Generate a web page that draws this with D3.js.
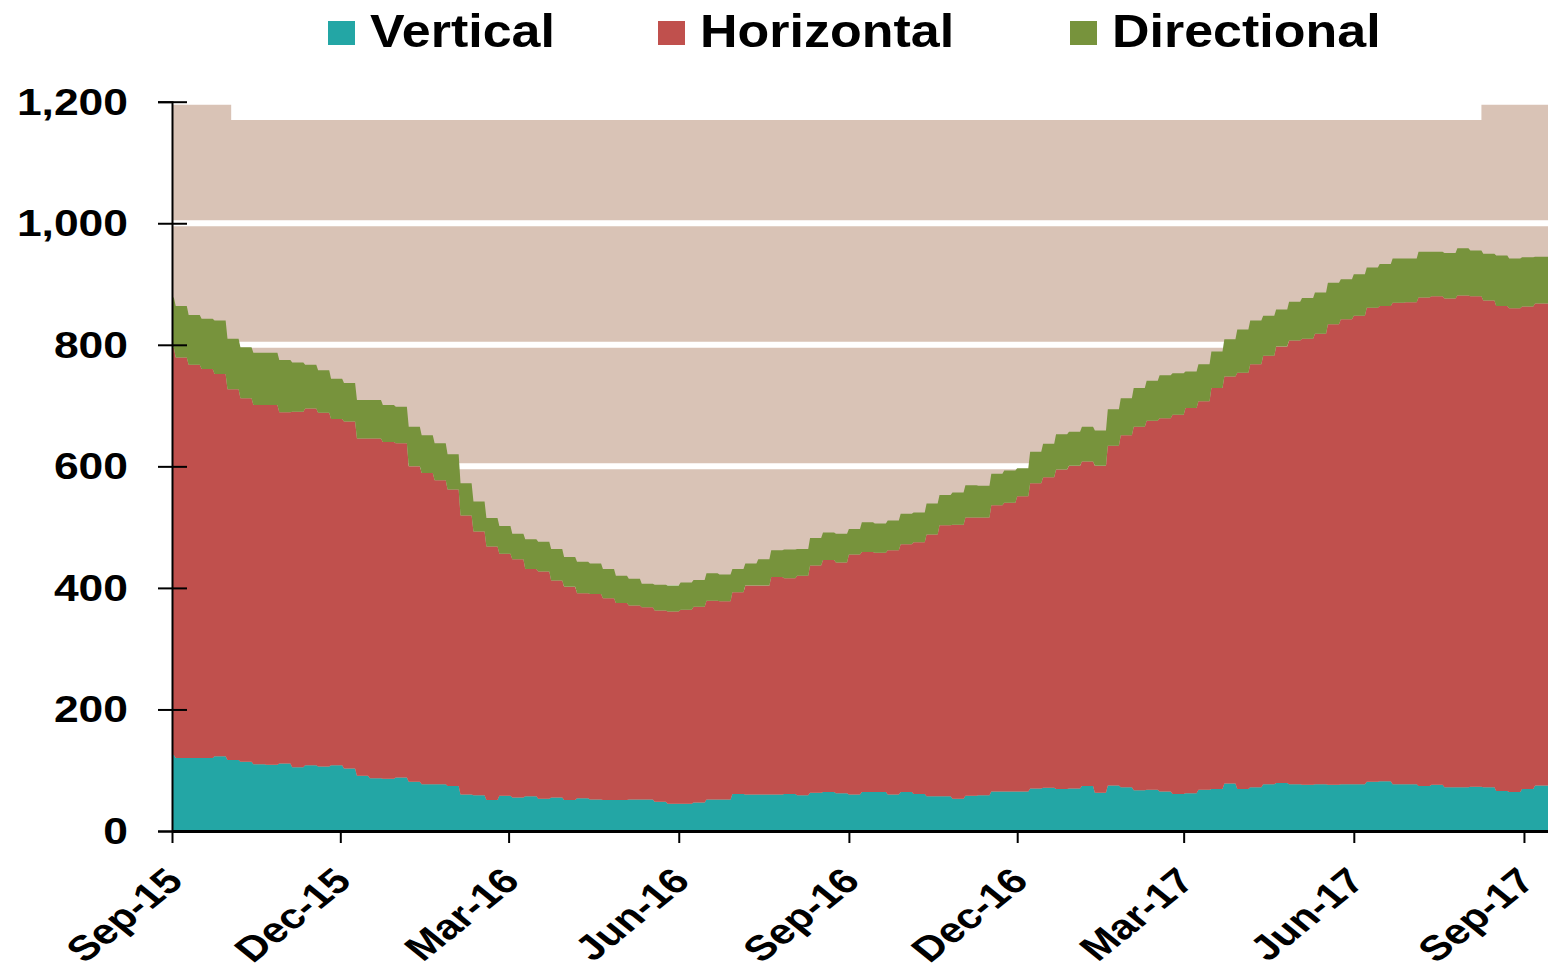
<!DOCTYPE html>
<html>
<head>
<meta charset="utf-8">
<script src="https://cdn.jsdelivr.net/npm/d3@7"></script>
<style>
    body { margin: 0; background: #fff; }
    text { font-family: "Liberation Sans", Arial, sans-serif; font-weight: bold; fill: #000; }
</style>
</head>
<body>
<div id="chart"></div>
<script>
// weekly rig counts, one value per week starting at weekStart
var weekStart = new Date(2015, 7, 27);
var seriesKeys = ['vertical', 'horizontal', 'directional'];
var seriesNames = ['Vertical', 'Horizontal', 'Directional'];

var vertical = [125, 120, 120, 120, 123, 117, 114, 110, 109, 111,
    105, 108, 106, 108, 103, 91, 87, 86, 88, 81,
    77, 77, 74, 60, 59, 51, 58, 55, 57, 53,
    55, 51, 54, 52, 51, 51, 52, 52, 48, 45,
    45, 47, 52, 52, 61, 60, 60, 60, 61, 59,
    63, 64, 62, 60, 64, 64, 60, 64, 61, 57,
    57, 53, 58, 59, 65, 65, 65, 70, 71, 69,
    70, 74, 63, 75, 72, 67, 68, 65, 61, 62,
    68, 69, 78, 69, 72, 77, 79, 77, 76, 77,
    76, 77, 77, 81, 82, 77, 77, 74, 76, 72,
    72, 73, 72, 66, 64, 69, 75];

var horizontal = [670, 659, 647, 640, 629, 610, 598, 591, 592, 578,
    585, 587, 582, 570, 571, 555, 559, 554, 550, 519,
    512, 500, 488, 459, 434, 417, 398, 392, 374, 374,
    357, 351, 337, 338, 332, 324, 319, 316, 315, 316,
    319, 322, 327, 326, 332, 344, 344, 358, 355, 361,
    374, 382, 380, 395, 395, 394, 402, 408, 414, 431,
    446, 451, 458, 457, 471, 475, 486, 502, 511, 526,
    531, 534, 538, 559, 579, 598, 607, 614, 624, 634,
    639, 660, 670, 685, 696, 705, 718, 730, 734, 741,
    758, 765, 771, 780, 782, 792, 793, 804, 804, 804,
    809, 807, 801, 798, 796, 794, 793];

var directional = [83, 85, 82, 83, 88, 83, 84, 86, 86, 86,
    81, 72, 70, 66, 63, 63, 63, 61, 60, 65,
    62, 61, 58, 53, 49, 47, 46, 42, 49, 49,
    52, 49, 52, 50, 48, 45, 44, 39, 42, 43,
    45, 44, 45, 44, 38, 36, 43, 44, 47, 44,
    45, 45, 47, 42, 49, 48, 49, 50, 49, 51,
    50, 53, 53, 52, 52, 53, 46, 52, 55, 58,
    56, 57, 58, 60, 61, 64, 66, 71, 68, 60,
    61, 60, 61, 71, 72, 66, 61, 64, 67, 68,
    68, 66, 68, 66, 69, 73, 72, 75, 73, 75,
    78, 75, 77, 83, 82, 81, 77];

// shaded plot background (top edge)
var bgDates = [new Date(2015, 8, 1), new Date(2015, 9, 3), new Date(2017, 7, 9)];
var bgTop = [1200, 1170, 1200];

var yTicks = [0, 200, 400, 600, 800, 1000, 1200];
var xTickLabels = ['Sep-15', 'Dec-15', 'Mar-16', 'Jun-16', 'Sep-16', 'Dec-16', 'Mar-17', 'Jun-17', 'Sep-17'];

var color = {
    vertical: '#23A6A5',
    horizontal: '#C0504D',
    directional: '#77933C',
    bg: '#D9C3B6'
};

var W = 1548, H = 975;
var plot = { left: 172, right: 1548, top: 101.7, bottom: 831 };

var startDate = new Date(2015, 8, 1),
    endDate = new Date(2017, 8, 14);

var x = d3.scaleTime().domain([startDate, endDate]).range([plot.left, plot.right]);
var y = d3.scaleLinear().domain([0, 1200]).range([plot.bottom, plot.top]);

// every weekly value is held until the day before the next reading
function expandRows() {
    var rows = [];
    for (var i = 0; i < vertical.length; i++) {
        var d0 = d3.timeDay.offset(weekStart, 7 * i);
        var d1 = d3.timeDay.offset(weekStart, 7 * (i + 1) - 1);
        if (d0 < startDate) d0 = startDate;
        if (i === vertical.length - 1) d1 = endDate;
        var v = { vertical: vertical[i], horizontal: horizontal[i], directional: directional[i] };
        rows.push(Object.assign({ date: d0 }, v));
        rows.push(Object.assign({ date: d1 }, v));
    }
    return rows;
}

var svg = d3.select('#chart').append('svg')
    .attr('width', W)
    .attr('height', H);

// background
var bgData = bgDates.map(function (d, i) { return { date: d, v: bgTop[i] }; });
bgData.push({ date: endDate, v: bgTop[bgTop.length - 1] });

svg.append('path')
    .datum(bgData)
    .attr('fill', color.bg)
    .attr('d', d3.area()
        .curve(d3.curveStepAfter)
        .x(function (d) { return x(d.date); })
        .y0(y(0))
        .y1(function (d) { return y(d.v); }));

// white gridlines
svg.append('g')
    .selectAll('line')
    .data(yTicks.filter(function (t) { return t > 0; }))
    .enter().append('line')
    .attr('x1', plot.left)
    .attr('x2', plot.right)
    .attr('y1', function (d) { return y(d); })
    .attr('y2', function (d) { return y(d); })
    .attr('stroke', '#fff')
    .attr('stroke-width', 6);

// stacked areas
var stacked = d3.stack().keys(seriesKeys)(expandRows());

var area = d3.area()
    .x(function (d) { return x(d.data.date); })
    .y0(function (d) { return y(d[0]); })
    .y1(function (d) { return y(d[1]); });

svg.append('g')
    .selectAll('path')
    .data(stacked)
    .enter().append('path')
    .attr('fill', function (d) { return color[d.key]; })
    .attr('d', area);

// y axis
var yAxis = svg.append('g')
    .attr('transform', 'translate(' + plot.left + ',0)')
    .call(d3.axisLeft(y).tickValues(yTicks).tickSize(14).tickFormat(''));
yAxis.select('.domain').attr('stroke', '#000').attr('stroke-width', 2);
yAxis.selectAll('.tick line')
    .attr('x1', 15)
    .attr('x2', -14)
    .attr('stroke', '#000')
    .attr('stroke-width', 2);

// the source picture is widened, so its text is too
svg.append('g')
    .selectAll('text')
    .data(yTicks)
    .enter().append('text')
    .attr('transform', function (d) {
        return 'translate(128,' + (y(d) + 13) + ') scale(1.2,1)';
    })
    .attr('text-anchor', 'end')
    .style('font-size', '37px')
    .text(d3.format(','));

// x axis
var parseTick = d3.timeParse('%b-%y');
var xTickDates = xTickLabels.map(function (s) { return parseTick(s); });

var xAxis = svg.append('g')
    .attr('transform', 'translate(0,' + plot.bottom + ')')
    .call(d3.axisBottom(x).tickValues(xTickDates).tickSize(12).tickSizeOuter(0).tickFormat(''));
xAxis.select('.domain').attr('stroke', '#000').attr('stroke-width', 3);
xAxis.selectAll('.tick line').attr('stroke', '#000').attr('stroke-width', 2);

svg.append('g')
    .selectAll('text')
    .data(xTickDates)
    .enter().append('text')
    .attr('transform', function (d) {
        return 'translate(' + (x(d) + 13) + ',883) scale(1.24,1) rotate(-45)';
    })
    .attr('text-anchor', 'end')
    .style('font-size', '35px')
    .text(function (d, i) { return xTickLabels[i]; });

// legend
var legendX = [328, 658, 1070];
var legend = svg.append('g')
    .selectAll('g')
    .data(seriesKeys)
    .enter().append('g')
    .attr('transform', function (d, i) { return 'translate(' + legendX[i] + ',0)'; });

legend.append('rect')
    .attr('x', 0)
    .attr('y', 21)
    .attr('width', 27)
    .attr('height', 24)
    .attr('fill', function (d) { return color[d]; });

legend.append('text')
    .attr('transform', 'translate(42,47) scale(1.13,1)')
    .style('font-size', '46px')
    .text(function (d, i) { return seriesNames[i]; });
</script>
</body>
</html>
